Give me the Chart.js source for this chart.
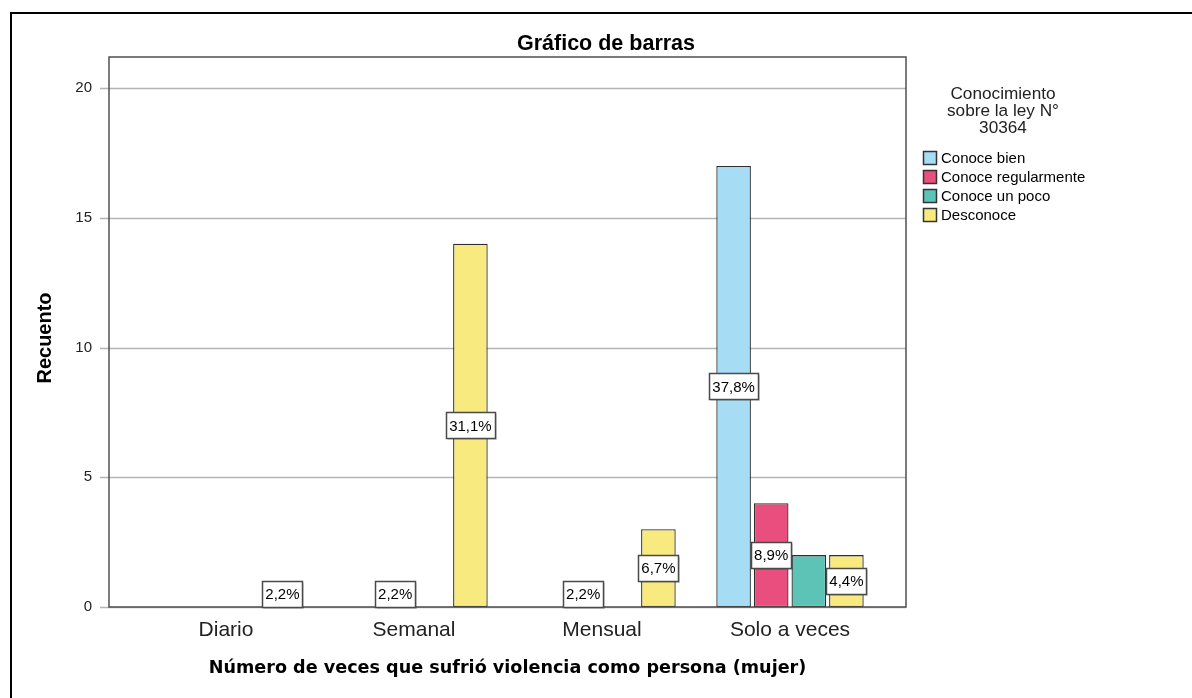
<!DOCTYPE html>
<html lang="es">
<head>
<meta charset="UTF-8">
<title>Gráfico de barras</title>
<script src="https://cdn.jsdelivr.net/npm/chart.js"></script>
<style>
  html, body { margin: 0; padding: 0; background: #fff; }
  #wrap { width: 1192px; height: 698px; position: relative; }
</style>
</head>
<body>
<div id="wrap"><canvas id="chart"></canvas></div>
<script>
const categories = ['Diario', 'Semanal', 'Mensual', 'Solo a veces'];
const seriesNames = ['Conoce bien', 'Conoce regularmente', 'Conoce un poco', 'Desconoce'];
const conoceBien = [0, 0, 0, 17];
const conoceRegular = [0, 1, 1, 4];
const conocePoco = [0, 0, 0, 2];
const desconoce = [1, 14, 3, 2];
const yTicks = [0, 5, 10, 15, 20];
const legendTitle = ['Conocimiento', 'sobre la ley N°', '30364'];
// labels SPSS left out (dataset index, category index)
const hiddenLabels = [[2, 3]];

const colors = ['#a6dcf4', '#e84e7e', '#5dc3b6', '#f8ea7f'];
const allSeries = [conoceBien, conoceRegular, conocePoco, desconoce];
const total = allSeries.flat().reduce((a, b) => a + b, 0);

// frame of the plot (wider than the category range, like SPSS)
const frame = { left: 109, right: 906 };

const spssPlugin = {
  id: 'spss',
  beforeDatasetsDraw(chart) {
    const { ctx, scales: { y } } = chart;
    ctx.save();
    ctx.strokeStyle = '#b4b4b4';
    ctx.lineWidth = 1.5;
    yTicks.forEach(v => {
      const py = Math.round(y.getPixelForValue(v)) + 0.5;
      ctx.beginPath();
      ctx.moveTo(frame.left - 9, py);
      ctx.lineTo(frame.right, py);
      ctx.stroke();
    });
    ctx.restore();
  },
  afterDatasetsDraw(chart) {
    const { ctx, chartArea } = chart;
    ctx.save();
    // plot frame
    ctx.strokeStyle = '#505050';
    ctx.lineWidth = 1.5;
    ctx.strokeRect(frame.left, chartArea.top, frame.right - frame.left, chartArea.bottom - chartArea.top);

    // percentage labels
    ctx.font = '15px "Liberation Sans", Arial, sans-serif';
    ctx.textAlign = 'center';
    ctx.textBaseline = 'middle';
    chart.data.datasets.forEach((ds, di) => {
      const meta = chart.getDatasetMeta(di);
      meta.data.forEach((bar, i) => {
        const v = ds.data[i];
        if (!v) return;
        if (hiddenLabels.some(h => h[0] === di && h[1] === i)) return;
        const txt = (v / total * 100).toFixed(1).replace('.', ',') + '%';
        const cy = (bar.y + bar.base) / 2;
        const w = Math.round(ctx.measureText(txt).width + 6);
        const h = 26;
        const bx = Math.round(bar.x - w / 2) + 0.5;
        const by = Math.round(cy - h / 2) + 0.5;
        ctx.fillStyle = 'rgba(0,0,0,0.15)';
        ctx.fillRect(bx + 1.5, by + 1.5, w, h);
        ctx.fillStyle = '#fff';
        ctx.fillRect(bx, by, w, h);
        ctx.strokeStyle = '#4a4a4a';
        ctx.lineWidth = 1.5;
        ctx.strokeRect(bx, by, w, h);
        ctx.fillStyle = '#000';
        ctx.fillText(txt, bar.x, cy + 1);
      });
    });
    ctx.restore();
  },
  afterDraw(chart) {
    const { ctx, width, height } = chart;
    ctx.save();
    // outer black border (top and left only visible)
    ctx.strokeStyle = '#000';
    ctx.lineWidth = 2;
    ctx.beginPath();
    ctx.moveTo(11, height);
    ctx.lineTo(11, 13);
    ctx.lineTo(width, 13);
    ctx.stroke();

    ctx.fillStyle = '#000';
    ctx.textAlign = 'center';
    ctx.textBaseline = 'middle';
    // title
    ctx.font = 'bold 21.5px "Liberation Sans", Arial, sans-serif';
    ctx.fillText('Gráfico de barras', 606, 44);
    // x axis title
    ctx.font = 'bold 17.6px "DejaVu Sans", sans-serif';
    ctx.fillText('Número de veces que sufrió violencia como persona (mujer)', (frame.left + frame.right) / 2, 668);
    // y axis title
    ctx.save();
    ctx.translate(45, 338);
    ctx.rotate(-Math.PI / 2);
    ctx.font = 'bold 20px "Liberation Sans", Arial, sans-serif';
    ctx.fillText('Recuento', 0, 0);
    ctx.restore();

    // legend
    ctx.fillStyle = '#222';
    ctx.font = '17.2px "Liberation Sans", Arial, sans-serif';
    legendTitle.forEach((t, i) => ctx.fillText(t, 1003, 94 + i * 17));
    ctx.textAlign = 'left';
    ctx.font = '15px "Liberation Sans", Arial, sans-serif';
    chart.data.datasets.forEach((ds, i) => {
      const cy = 158 + i * 19;
      ctx.fillStyle = ds.backgroundColor;
      ctx.fillRect(923.5, cy - 6.5, 13, 13);
      ctx.strokeStyle = '#333';
      ctx.lineWidth = 1.5;
      ctx.strokeRect(923.5, cy - 6.5, 13, 13);
      ctx.fillStyle = '#000';
      ctx.fillText(ds.label, 941, cy + 1);
    });
    ctx.restore();
  }
};

new Chart(document.getElementById('chart'), {
  type: 'bar',
  data: {
    labels: categories,
    datasets: allSeries.map((d, i) => ({
      label: seriesNames[i],
      data: d,
      backgroundColor: colors[i],
      borderColor: '#2e2e2e',
      borderWidth: 1.3,
      borderSkipped: false,
      categoryPercentage: 0.8,
      barPercentage: 0.92
    }))
  },
  options: {
    responsive: true,
    maintainAspectRatio: false,
    animation: false,
    layout: { padding: { left: 0, right: 308, top: 57, bottom: 0 } },
    plugins: {
      legend: { display: false },
      title: { display: false },
      tooltip: { enabled: false }
    },
    scales: {
      x: {
        grid: { display: false, drawTicks: false },
        border: { display: false },
        ticks: {
          color: '#222',
          padding: 11,
          maxRotation: 0,
          font: { family: '"Liberation Sans", Arial, sans-serif', size: 21 }
        },
        afterFit: s => { s.height = 91; }
      },
      y: {
        min: 0,
        max: 21.2,
        grid: { display: false, drawTicks: false },
        border: { display: false },
        afterBuildTicks: s => { s.ticks = yTicks.map(v => ({ value: v })); },
        ticks: {
          color: '#222',
          padding: 40,
          font: { family: '"Liberation Sans", Arial, sans-serif', size: 15 }
        },
        afterFit: s => { s.width = 132; }
      }
    }
  },
  plugins: [spssPlugin]
});
</script>
</body>
</html>
